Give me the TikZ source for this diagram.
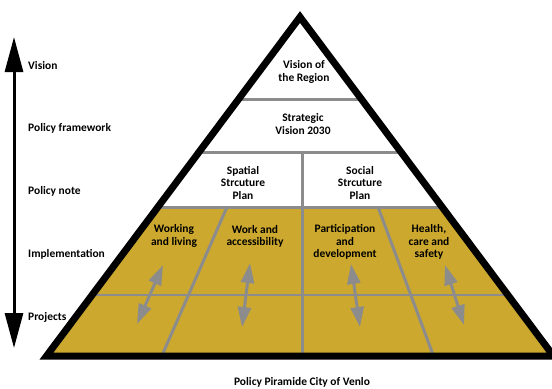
\documentclass[tikz,border=0pt]{standalone}
\usepackage{fontspec}
\setmainfont{Carlito}
\usetikzlibrary{arrows.meta}
\definecolor{gold}{RGB}{204,168,46}
\definecolor{lgray}{RGB}{140,140,140}
\begin{document}
\begin{tikzpicture}[x=1bp,y=-1bp,
  font=\fontsize{11.5}{12.2}\selectfont\bfseries,
  txt/.style={align=center, inner sep=0pt},
  lvl/.style={anchor=west, inner sep=0pt},
  divider/.style={draw=lgray, line width=3bp},
  thinline/.style={draw=lgray, line width=1.5bp},
  dbl/.style={draw=lgray, line width=3bp, {Triangle[length=20bp,width=13bp]}-{Triangle[length=20bp,width=13bp]}},
  ]
\useasboundingbox (0,0) rectangle (552,388);
% pyramid outline points
\coordinate (apex) at (300,17);
\coordinate (bl) at (46.5,356);
\coordinate (br) at (553.5,356);
% divider coordinates
\coordinate (h1l) at (0,99);   \coordinate (h1r) at (560,99);
\coordinate (h2l) at (0,152);  \coordinate (h2r) at (560,152);
\coordinate (h3l) at (0,207);  \coordinate (h3r) at (560,207);
\coordinate (h4l) at (0,295);  \coordinate (h4r) at (560,295);
\coordinate (vt) at (302,152); \coordinate (vb) at (302,360);
\coordinate (d1t) at (227,207); \coordinate (d1b) at (160,360);
\coordinate (d2t) at (378,207); \coordinate (d2b) at (435,360);
\begin{scope}
  \clip (apex) -- (bl) -- (br) -- cycle;
  \fill[gold] (0,207) rectangle (560,360);
  \draw[divider] (h1l) -- (h1r);
  \draw[divider] (h2l) -- (h2r);
  \draw[divider] (h3l) -- (h3r);
  \draw[thinline] (h4l) -- (h4r);
  \draw[divider] (vt) -- (vb);
  \draw[divider] (d1t) -- (d1b);
  \draw[divider] (d2t) -- (d2b);
\end{scope}
\draw[line width=7bp, line join=miter] (apex) -- (bl) -- (br) -- cycle;
% texts in pyramid
\node[txt] (vreg) at (304,72) {Vision of\\the Region};
\node[txt] (strat) at (303,124) {Strategic\\Vision 2030};
\node[txt] (spat) at (243,183) {Spatial\\Strcuture\\Plan};
\node[txt] (soc) at (360,183) {Social\\Strcuture\\Plan};
\node[txt] (work) at (174,236) {Working\\and living};
\node[txt] (acc) at (255,236) {Work and\\accessibility};
\node[txt] (part) at (345,242) {Participation\\and\\development};
\node[txt] (health) at (429,242) {Health,\\care and\\safety};
% gray double arrows
\coordinate (a1t) at (163,265); \coordinate (a1b) at (137,324);
\coordinate (a2t) at (250,263); \coordinate (a2b) at (242,327);
\coordinate (a3t) at (351,264); \coordinate (a3b) at (360,327);
\coordinate (a4t) at (445,265); \coordinate (a4b) at (464,325);
\draw[dbl] (a1t) -- (a1b);
\draw[dbl] (a2t) -- (a2b);
\draw[dbl] (a3t) -- (a3b);
\draw[dbl] (a4t) -- (a4b);
% left scale arrow
\coordinate (st) at (14,37);
\coordinate (sb) at (14,348);
\draw[line width=3bp, {Triangle[length=35bp,width=18bp]}-{Triangle[length=35bp,width=18bp]}] (st) -- (sb);
\node[lvl] (l1) at (28,66) {Vision};
\node[lvl] (l2) at (28,128) {Policy framework};
\node[lvl] (l3) at (28,191) {Policy note};
\node[lvl] (l4) at (28,254) {Implementation};
\node[lvl] (l5) at (28,317) {Projects};
\node[txt] (cap) at (302,382) {Policy Piramide City of Venlo};
\end{tikzpicture}
\end{document}
